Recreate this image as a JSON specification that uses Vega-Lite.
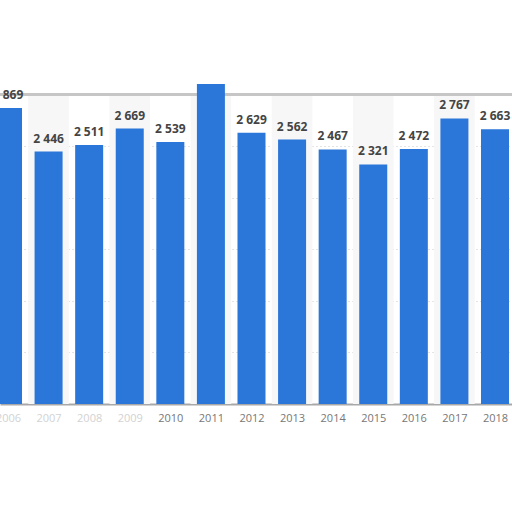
{
  "$schema": "https://vega.github.io/schema/vega-lite/v6.json",
  "width": 512,
  "height": 404,
  "padding": {"left": 0, "top": 0, "right": 0, "bottom": 108},
  "autosize": "none",
  "background": "white",
  "config": {
    "view": {"stroke": null},
    "locale": {
      "number": {"decimal": ".", "thousands": " ", "grouping": [3], "currency": ["", ""]}
    }
  },
  "data": {
    "values": [
      {"year": 2006, "value": 2869},
      {"year": 2007, "value": 2446},
      {"year": 2008, "value": 2511},
      {"year": 2009, "value": 2669},
      {"year": 2010, "value": 2539},
      {"year": 2011, "value": 3100},
      {"year": 2012, "value": 2629},
      {"year": 2013, "value": 2562},
      {"year": 2014, "value": 2467},
      {"year": 2015, "value": 2321},
      {"year": 2016, "value": 2472},
      {"year": 2017, "value": 2767},
      {"year": 2018, "value": 2663}
    ]
  },
  "encoding": {
    "x": {
      "field": "year",
      "type": "quantitative",
      "scale": {"domain": [2005.803, 2018.419], "nice": false, "zero": false, "padding": 0},
      "axis": {
        "values": [2006, 2007, 2008, 2009, 2010, 2011, 2012, 2013, 2014, 2015, 2016, 2017, 2018],
        "format": "d",
        "title": null,
        "ticks": false,
        "grid": false,
        "domainColor": "#a8a8a8",
        "domainWidth": 2,
        "labelPadding": 8,
        "labelFontSize": 11,
        "labelFont": "Open Sans",
        "labelColor": {"condition": {"test": "datum.value < 2010", "value": "#d2d2d2"}, "value": "#777777"},
        "labelFlush": false,
        "labelOverlap": false
      }
    }
  },
  "layer": [
    {
      "transform": [{"filter": "datum.year % 2 == 1"}],
      "mark": {"type": "bar", "width": 40.6, "color": "#f7f7f7"},
      "encoding": {
        "y": {"datum": 3000, "type": "quantitative", "scale": {"domain": [0, 3915], "nice": false}},
        "y2": {"datum": 0}
      }
    },
    {
      "mark": {"type": "rule", "color": "#c6c6c6", "strokeWidth": 2},
      "encoding": {
        "x": {"value": 0},
        "x2": {"value": 512},
        "y": {"datum": 3000, "type": "quantitative"}
      }
    },
    {
      "mark": {"type": "bar", "width": 28, "color": "#2a76d9"},
      "encoding": {
        "y": {
          "field": "value",
          "type": "quantitative",
          "scale": {"domain": [0, 3915], "nice": false},
          "axis": {
            "values": [500, 1000, 1500, 2000, 2500],
            "labels": false,
            "ticks": false,
            "domain": false,
            "title": null,
            "grid": true,
            "gridColor": "#c8c8c8",
            "gridDash": [1, 3],
            "gridWidth": 1
          }
        }
      }
    },
    {
      "transform": [{"filter": "datum.year != 2011"}],
      "mark": {
        "type": "text",
        "dy": -13,
        "baseline": "middle",
        "font": "Open Sans",
        "fontSize": 12,
        "fontWeight": "bold",
        "color": "#444444"
      },
      "encoding": {
        "y": {"field": "value", "type": "quantitative"},
        "text": {"field": "value", "type": "quantitative", "format": ","}
      }
    }
  ]
}
